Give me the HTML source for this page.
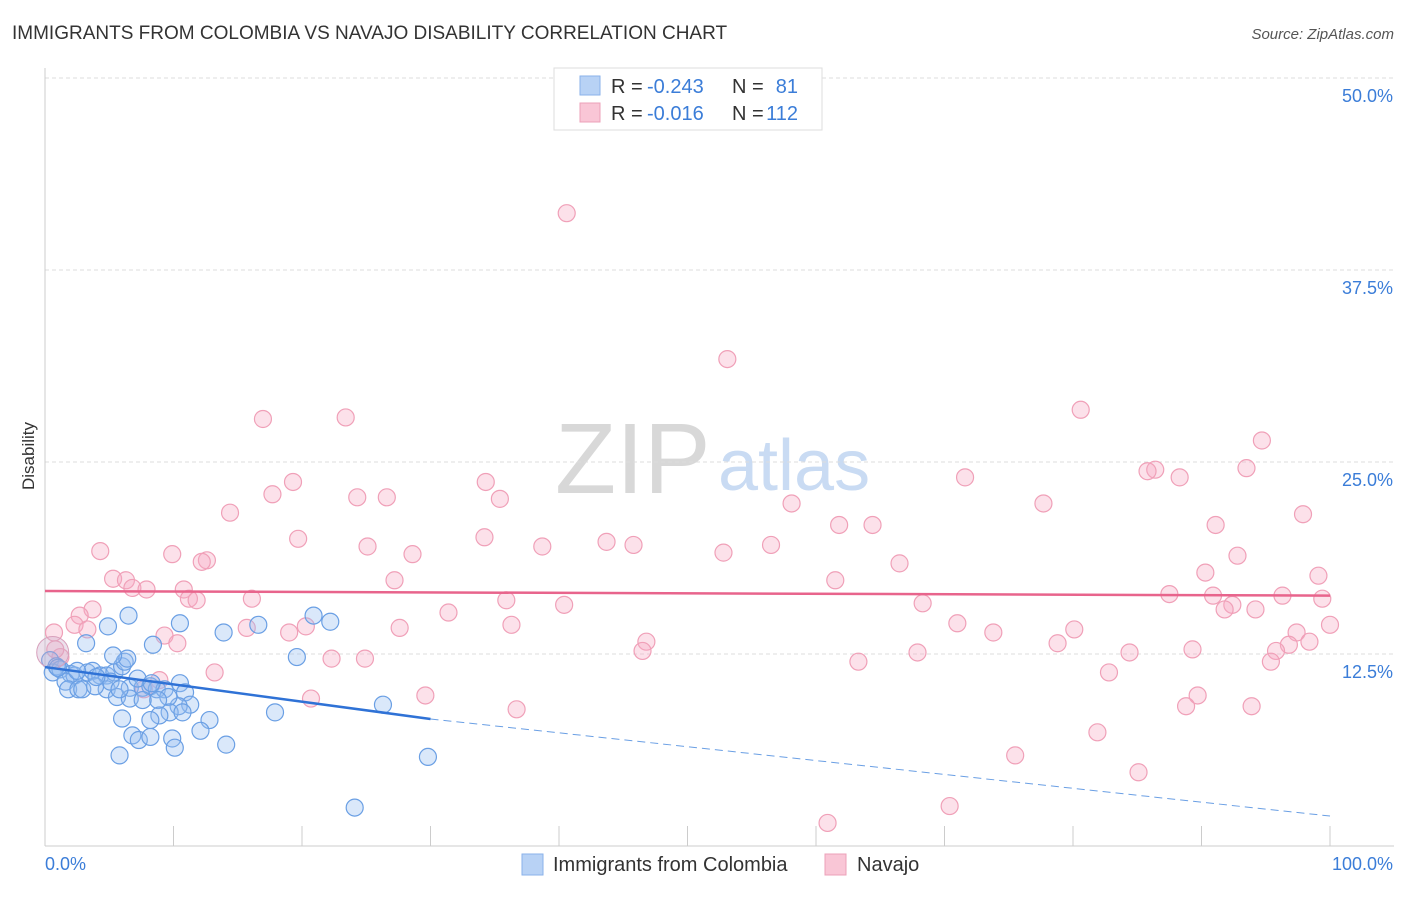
<!DOCTYPE html>
<html><head><meta charset="utf-8"><style>
body{margin:0;background:#fff;font-family:"Liberation Sans",sans-serif}
svg text{font-family:"Liberation Sans",sans-serif}
</style></head><body>
<svg id="chart" width="1406" height="892">
<text x="12" y="39" font-size="19" fill="#333">IMMIGRANTS FROM COLOMBIA VS NAVAJO DISABILITY CORRELATION CHART</text>
<text x="1394" y="39" font-size="15" fill="#555" font-style="italic" text-anchor="end">Source: ZipAtlas.com</text>
<text x="34" y="456" font-size="17" fill="#333" transform="rotate(-90 34 456)" text-anchor="middle">Disability</text>
<text x="555" y="493" font-size="100" fill="#d8d8d8" font-family="Liberation Serif">ZIP</text>
<text x="718" y="490" font-size="72" fill="#c9dbf3">atlas</text>
<g id="grid"></g><g id="axes"></g><g id="pts"></g><g id="trend"></g>
<g>
<rect x="554" y="68" width="268" height="62" fill="#fff" stroke="#ddd"/>
<rect x="580" y="76" width="20" height="19" fill="#b8d2f5" stroke="#8ab2ea"/>
<rect x="580" y="103" width="20" height="19" fill="#f9c6d6" stroke="#eca0b8"/>
<g font-size="20">
<text x="611" y="93" fill="#333">R =</text><text x="647" y="93" fill="#3b7dd8">-0.243</text>
<text x="732" y="93" fill="#333">N =</text><text x="798" y="93" fill="#3b7dd8" text-anchor="end">81</text></g>
<g font-size="20">
<text x="611" y="120" fill="#333">R =</text><text x="647" y="120" fill="#3b7dd8">-0.016</text>
<text x="732" y="120" fill="#333">N =</text><text x="798" y="120" fill="#3b7dd8" text-anchor="end">112</text></g>
</g>
<g>
<rect x="522" y="854" width="21" height="21" fill="#b8d2f5" stroke="#8ab2ea"/>
<text x="553" y="871" font-size="20" fill="#333">Immigrants from Colombia</text>
<rect x="825" y="854" width="21" height="21" fill="#f9c6d6" stroke="#eca0b8"/>
<text x="857" y="871" font-size="20" fill="#333">Navajo</text>
</g>
</svg>
<script>
const yTicks=[12.5,25,37.5,50];
const yTickLabels=["12.5%","25.0%","37.5%","50.0%"];
const xTickVals=[0,10,20,30,40,50,60,70,80,90,100];
const blueX=[0.4,0.9,0.6,1.2,2.0,2.3,1.6,1.8,2.6,2.9,3.3,3.7,4.3,4.8,5.4,6.0,6.2,6.4,5.3,3.2,4.9,6.5,4.8,5.6,6.6,6.6,7.6,8.2,8.7,9.3,10.5,10.9,11.3,10.4,9.6,8.8,7.6,9.7,10.7,8.9,8.2,6.0,12.8,12.1,6.8,7.3,8.2,9.9,10.1,14.1,5.8,8.4,10.5,13.9,16.6,20.9,22.2,19.6,17.9,26.3,29.8,24.1,7.2,8.3,5.1,3.9,5.8,1.0,2.5,4.0];
const blueY=[12.1,11.7,11.3,11.5,11.2,11.1,10.7,10.2,10.2,10.2,11.3,11.4,11.1,11.1,11.3,11.7,12.0,12.2,12.4,13.2,14.3,15.0,10.2,9.7,10.3,9.6,10.3,10.4,10.2,10.2,10.6,10.0,9.2,9.1,9.7,9.5,9.5,8.7,8.7,8.5,8.2,8.3,8.2,7.5,7.2,6.9,7.1,7.0,6.4,6.6,5.9,13.1,14.5,13.9,14.4,15.0,14.6,12.3,8.7,9.2,5.8,2.5,10.9,10.6,10.7,10.4,10.2,11.6,11.4,11.0];
const pinkX=[40.6,53.1,16.96,23.4,80.6,94.7,93.5,86.4,85.8,88.3,71.6,19.3,34.3,17.7,24.3,26.6,35.4,58.1,77.7,14.4,97.9,61.8,64.4,91.1,19.7,34.2,43.7,45.8,25.1,38.7,56.5,4.3,52.8,28.6,9.9,92.8,12.6,12.2,66.5,90.3,99.1,5.3,27.2,61.5,6.3,10.8,6.8,7.9,87.5,90.9,96.3,99.4,11.2,16.1,35.9,11.8,40.4,68.3,92.4,91.8,94.2,3.7,31.4,2.7,71.0,2.3,36.3,100,20.3,27.6,15.7,3.3,80.1,19.0,73.8,97.4,0.7,9.3,10.3,98.4,46.8,78.8,96.8,84.4,46.5,67.9,89.3,95.8,1.2,22.3,24.9,63.3,95.4,13.2,82.8,8.9,7.7,29.6,89.7,20.7,88.8,93.9,36.7,81.9,75.5,85.1,70.4,60.9,0.8];
const pinkY=[41.2,31.7,27.8,27.9,28.4,26.4,24.6,24.5,24.4,24.0,24.0,23.7,23.7,22.9,22.7,22.7,22.6,22.3,22.3,21.7,21.6,20.9,20.9,20.9,20.0,20.1,19.8,19.6,19.5,19.5,19.6,19.2,19.1,19.0,19.0,18.9,18.6,18.5,18.4,17.8,17.6,17.4,17.3,17.3,17.3,16.7,16.8,16.7,16.4,16.3,16.3,16.1,16.1,16.1,16.0,16.0,15.7,15.8,15.7,15.4,15.4,15.4,15.2,15.0,14.5,14.4,14.4,14.4,14.3,14.2,14.2,14.1,14.1,13.9,13.9,13.9,13.9,13.7,13.2,13.3,13.3,13.2,13.1,12.6,12.7,12.6,12.8,12.7,12.3,12.2,12.2,12.0,12.0,11.3,11.3,10.8,10.2,9.8,9.8,9.6,9.1,9.1,8.9,7.4,5.9,4.8,2.6,1.5,12.8];
const blueTrend=[11.65,8.27,1.95];
const pinkTrend=[16.6,16.3];
const X0=45,X1=1330,Y0=846,YS=15.36;
const sx=v=>X0+(X1-X0)*v/100, sy=v=>Y0-v*YS;
const NS='http://www.w3.org/2000/svg';
function mk(p,t,a){const e=document.createElementNS(NS,t);for(const k in a)e.setAttribute(k,a[k]);p.appendChild(e);return e;}
const grid=document.getElementById('grid'),axes=document.getElementById('axes'),pts=document.getElementById('pts'),tr=document.getElementById('trend');
yTicks.forEach((v,i)=>{const g=mk(grid,'line',{x1:45,x2:1394,y1:sy(v),y2:sy(v),stroke:'#ddd','stroke-dasharray':'4 3'});


const t=mk(grid,'text',{x:1393,y:sy(v)+24,'font-size':18,fill:'#3b7dd8','text-anchor':'end'});t.textContent=yTickLabels[i];

});
const la=mk(axes,'line',{x1:45,x2:45,y1:68,y2:846,stroke:'#ccc'});


const ba=mk(axes,'line',{x1:45,x2:1394,y1:846,y2:846,stroke:'#ccc'});


xTickVals.forEach(v=>{const l=mk(axes,'line',{x1:sx(v),x2:sx(v),y1:826,y2:846,stroke:'#ccc'});

});
const xl0=mk(axes,'text',{x:45,y:870,'font-size':18,fill:'#3b7dd8'});xl0.textContent='0.0%';


const xl1=mk(axes,'text',{x:1393,y:870,'font-size':18,fill:'#3b7dd8','text-anchor':'end'});xl1.textContent='100.0%';


pinkX.forEach((x,i)=>{const c=mk(pts,'circle',{cx:sx(x),cy:sy(pinkY[i]),r:8.5,fill:'rgba(246,170,195,0.35)',stroke:'#f0a0b8','stroke-width':1.2});

});
blueX.forEach((x,i)=>{const c=mk(pts,'circle',{cx:sx(x),cy:sy(blueY[i]),r:8.5,fill:'rgba(150,190,240,0.35)',stroke:'#6a9fe4','stroke-width':1.2});

});
const big=mk(pts,'circle',{cx:sx(0.6),cy:sy(12.6),r:16,fill:'rgba(200,170,200,0.35)',stroke:'#d8a0bc'});


const pl=mk(tr,'line',{x1:sx(0),y1:sy(pinkTrend[0]),x2:sx(100),y2:sy(pinkTrend[1]),stroke:'#e8648c','stroke-width':2.5});


const bl=mk(tr,'line',{x1:sx(0),y1:sy(blueTrend[0]),x2:sx(30),y2:sy(blueTrend[1]),stroke:'#2f72d6','stroke-width':2.5});


const bd=mk(tr,'line',{x1:sx(30),y1:sy(blueTrend[1]),x2:sx(100),y2:sy(blueTrend[2]),stroke:'#6a9fe4','stroke-width':1,'stroke-dasharray':'8 5'});


</script>
</body></html>
